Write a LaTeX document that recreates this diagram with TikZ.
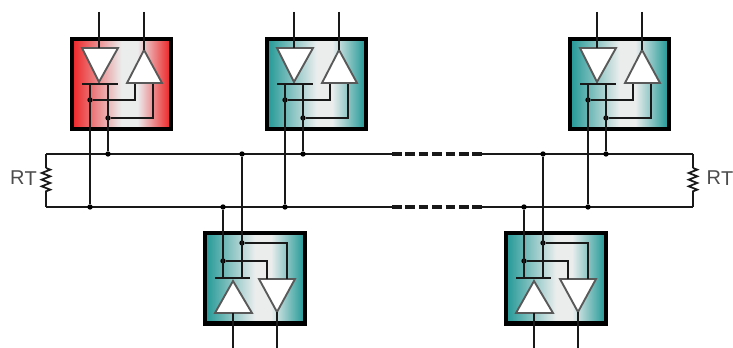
\documentclass[tikz,border=0pt]{standalone}
\usepackage{fontspec}
\usepackage{tikz,pgf}
\usetikzlibrary{decorations.pathmorphing}
\setmainfont{Liberation Sans}

\definecolor{boxred}{rgb}{0.93,0.17,0.18}
\definecolor{boxteal}{rgb}{0.16,0.61,0.60}
\definecolor{boxpale}{rgb}{0.92,0.93,0.93}
\pgfdeclarehorizontalshading{redbox}{100bp}{color(0bp)=(boxred); color(26bp)=(boxred); color(50bp)=(boxpale); color(58bp)=(boxpale); color(74bp)=(boxred); color(100bp)=(boxred)}
\pgfdeclarehorizontalshading{tealbox}{100bp}{color(0bp)=(boxteal); color(26bp)=(boxteal); color(50bp)=(boxpale); color(58bp)=(boxpale); color(74bp)=(boxteal); color(100bp)=(boxteal)}

% unit above the bus, #1 = shading
\newcommand{\topunit}[1]{
  \node[unit,shading=#1] (box) at (121.5,84) {};
  \draw[tri] (82,48) -- (118,48) -- (99,82) -- cycle;
  \draw[tri] (144,50) -- (162,83) -- (127,83) -- cycle;
  \coordinate (dnin) at (99,12);   \coordinate (dntop) at (99,48);
  \coordinate (upin) at (144,12);  \coordinate (uptop) at (144,50);
  \coordinate (barl) at (82,84);   \coordinate (barr) at (118,84);
  \coordinate (txa) at (90,84);    \coordinate (txb) at (108,84);
  \coordinate (rxa) at (135,84);   \coordinate (rxb) at (153,84);
  \coordinate (rxac) at (135,100); \coordinate (rxbc) at (153,118);
  \node[dot] (joina) at (90,100) {};
  \node[dot] (joinb) at (108,118) {};
  \node[dot] (busa) at (90,207) {};
  \node[dot] (busb) at (108,154) {};
  \draw[wire] (dnin) -- (dntop);
  \draw[wire] (upin) -- (uptop);
  \draw[wire] (barl) -- (barr);
  \draw[wire] (txa) -- (busa);
  \draw[wire] (txb) -- (busb);
  \draw[wire] (rxa) -- (rxac) -- (joina);
  \draw[wire] (rxb) -- (rxbc) -- (joinb);
}
% unit below the bus
\newcommand{\botunit}{
  \node[unit,shading=tealbox,minimum width=75pt,minimum height=68pt] (box) at (255,278.5) {};
  \draw[tri] (233,281) -- (252,313) -- (215,313) -- cycle;
  \draw[tri] (259,279) -- (295,279) -- (277,312) -- cycle;
  \coordinate (upin) at (233,348); \coordinate (upbot) at (233,313);
  \coordinate (dnin) at (277,348); \coordinate (dnbot) at (277,312);
  \coordinate (barl) at (215,278); \coordinate (barr) at (250,278);
  \coordinate (txa) at (223,278);  \coordinate (txb) at (242,278);
  \coordinate (rxa) at (267,279);  \coordinate (rxb) at (287,279);
  \coordinate (rxac) at (267,261); \coordinate (rxbc) at (287,243);
  \node[dot] (joina) at (223,261) {};
  \node[dot] (joinb) at (242,243) {};
  \node[dot] (busa) at (223,207) {};
  \node[dot] (busb) at (242,154) {};
  \draw[wire] (upin) -- (upbot);
  \draw[wire] (dnin) -- (dnbot);
  \draw[wire] (barl) -- (barr);
  \draw[wire] (txa) -- (busa);
  \draw[wire] (txb) -- (busb);
  \draw[wire] (rxa) -- (rxac) -- (joina);
  \draw[wire] (rxb) -- (rxbc) -- (joinb);
}

\begin{document}
\begin{tikzpicture}[x=0.75pt,y=-0.75pt,
    wire/.style={line width=2pt,black!90},
    tri/.style={line width=1.4pt,draw=black!65,fill=white,line join=miter},
    unit/.style={draw=black,line width=3.5pt,shade,minimum width=74.25pt,minimum height=67.5pt,inner sep=0pt},
    dot/.style={circle,fill=black,inner sep=0pt,minimum size=4pt},
    gapline/.style={wire,line width=2.4pt,dash pattern=on 7.2pt off 2.85pt},
    rlabel/.style={text=black!70,font=\fontsize{15}{15}\selectfont,inner sep=0pt}]
  \useasboundingbox (0,0) rectangle (733,348);

  % bus lines
  \coordinate (lefta) at (46,154);
  \coordinate (leftb) at (46,207);
  \coordinate (righta) at (693,154);
  \coordinate (rightb) at (693,207);
  \coordinate (gapla) at (392,154);
  \coordinate (gapra) at (482,154);
  \coordinate (gaplb) at (392,207);
  \coordinate (gaprb) at (482,207);
  \draw[wire] (gapla) -- (lefta);
  \draw[wire] (gapra) -- (righta);
  \draw[wire] (gaplb) -- (leftb);
  \draw[wire] (gaprb) -- (rightb);
  \draw[gapline] (gapla) -- (gapra);
  \draw[gapline] (gaplb) -- (gaprb);

  % terminations
  \coordinate (resla) at (46,168);
  \coordinate (reslb) at (46,194);
  \coordinate (resra) at (693,168);
  \coordinate (resrb) at (693,194);
  \draw[wire] (lefta) -- (resla);
  \draw[wire] (reslb) -- (leftb);
  \draw[wire] (righta) -- (resra);
  \draw[wire] (resrb) -- (rightb);
  \draw[wire,line width=1.3pt,decorate,decoration={zigzag,segment length=5pt,amplitude=3.2pt}] (resla) -- (reslb);
  \draw[wire,line width=1.3pt,decorate,decoration={zigzag,segment length=5pt,amplitude=3.2pt}] (resra) -- (resrb);
  \node[rlabel] (rtl) at (23.5,178) {R\raisebox{-1pt}{T}};
  \node[rlabel] (rtr) at (720,178) {R\raisebox{-1pt}{T}};

  \begin{scope}[name prefix=a-]
    \topunit{redbox}
  \end{scope}
  \begin{scope}[shift={(195,0)},name prefix=b-]
    \topunit{tealbox}
  \end{scope}
  \begin{scope}[shift={(498,0)},name prefix=c-]
    \topunit{tealbox}
  \end{scope}

  \begin{scope}[name prefix=d-]
    \botunit
  \end{scope}
  \begin{scope}[shift={(301,0)},name prefix=e-]
    \botunit
  \end{scope}
\end{tikzpicture}
\end{document}
